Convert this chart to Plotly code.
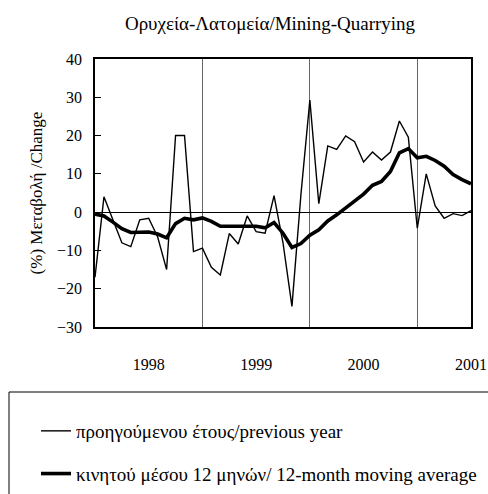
import plotly.graph_objects as go

# Monthly index positions (0 .. 42)
months = list(range(43))

# Change over previous year (%)
prev_year = [-17, 4, -2, -8, -9, -2, -1.6, -6.5, -15, 20, 20,
             -10.3, -9.4, -14.4, -16.4, -5.6, -8.3, -1, -5.1, -5.5, 4.3, -8,
             -24.6, 4.5, 29.3, 2.2, 17.3, 16.4, 19.9, 18.4, 13.1, 15.7,
             13.6, 15.7, 23.8, 19.6, -4.2, 10, 1.6, -1.6, -0.4, -0.9, 0.4]

# 12-month moving average (%)
moving_avg = [-0.5, -1, -2.6, -4.3, -5.3, -5.2, -5.2, -5.7, -6.7, -3, -1.6,
              -2, -1.5, -2.4, -3.7, -3.7, -3.7, -3.7, -3.7, -4.1, -2.7, -5.5,
              -9.2, -8.2, -6, -4.6, -2.3, -0.7, 1.2, 3, 4.7, 7,
              8, 10.6, 15.5, 16.6, 14.2, 14.6, 13.5, 12, 9.8, 8.5, 7.4]

year_ticks = [6, 18, 30, 42]
year_labels = ["1998", "1999", "2000", "2001"]

names = ["προηγούμενου έτους/previous year",
         "κινητού μέσου 12 μηνών/ 12-month moving average"]

FONT = "Liberation Serif, Times New Roman, serif"

fig = go.Figure()
fig.add_trace(go.Scatter(x=months, y=prev_year, mode="lines", name=names[0],
                         line=dict(color="black", width=1.4), legendgroup="a"))
fig.add_trace(go.Scatter(x=months, y=moving_avg, mode="lines", name=names[1],
                         line=dict(color="black", width=3.6), legendgroup="b"))

W, H = 488, 494
L, R, T, B = 95, 17, 59, 167
pw, ph = W - L - R, H - T - B

def px(x):
    return (x - L) / pw

def py(y):
    return (H - B - y) / ph

fig.update_layout(
    width=W, height=H,
    margin=dict(l=L, r=R, t=T, b=B, autoexpand=False),
    paper_bgcolor="white", plot_bgcolor="white",
    font=dict(family=FONT, size=16, color="black"),
    title=dict(text="Ορυχεία-Λατομεία/Mining-Quarrying", x=270 / W, xanchor="center",
               y=1 - 23 / H, yanchor="middle", font=dict(family=FONT, size=19)),
    showlegend=True,
    legend=dict(x=px(36), y=py(412), xanchor="left", yanchor="top",
                bgcolor="rgba(0,0,0,0)", borderwidth=0,
                traceorder="grouped", tracegroupgap=15,
                font=dict(family=FONT, size=19)),
    shapes=[dict(type="rect", xref="paper", yref="paper",
                 x0=px(9), x1=px(492), y0=py(392), y1=py(500),
                 line=dict(color="black", width=1), fillcolor="rgba(0,0,0,0)",
                 layer="below")],
)

fig.update_xaxes(range=[0, 42], tickmode="array", tickvals=year_ticks,
                 ticktext=year_labels, showgrid=False, zeroline=False,
                 ticks="", ticklabelstandoff=22,
                 showline=True, linecolor="black", linewidth=1.5, mirror=True,
                 minor=dict(tickmode="linear", tick0=0, dtick=12, showgrid=True,
                            gridcolor="#666666", gridwidth=1),
                 tickfont=dict(family=FONT, size=16))
fig.update_yaxes(range=[-30, 40], dtick=10, showgrid=False,
                 zeroline=True, zerolinecolor="black", zerolinewidth=1,
                 ticks="inside", ticklen=6, tickcolor="black",
                 showline=True, linecolor="black", linewidth=1.5, mirror=True,
                 ticklabelstandoff=8,
                 title=dict(text="(%) Μεταβολή /Change", standoff=10,
                            font=dict(family=FONT, size=17)),
                 tickfont=dict(family=FONT, size=16))

fig.write_html("out.html", config={"displayModeBar": False},
               post_script="document.body.style.margin='0';document.body.style.overflow='hidden';")
